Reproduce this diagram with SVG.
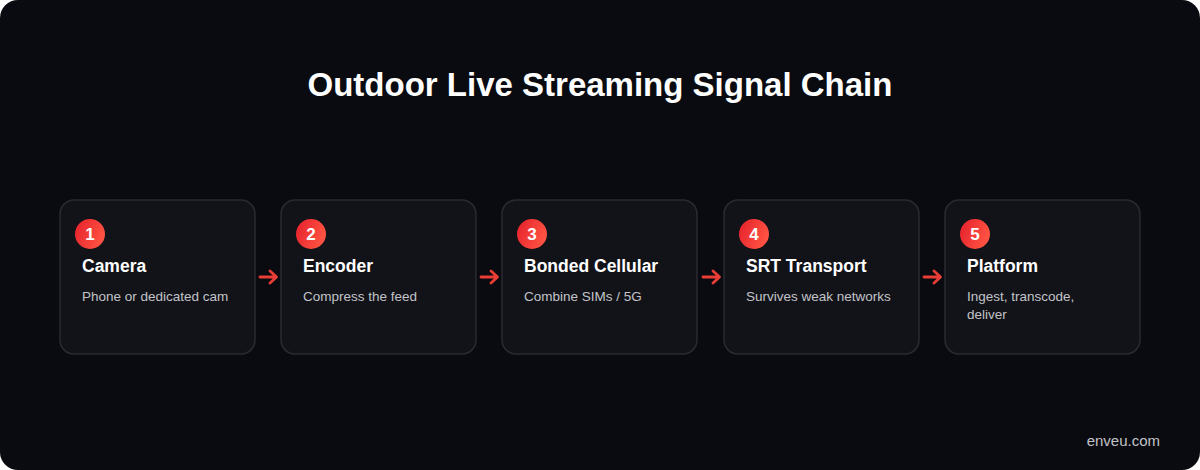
<svg xmlns="http://www.w3.org/2000/svg" width="1200" height="470" viewBox="0 0 1200 470">
<defs>
<linearGradient id="badge" x1="0" y1="0" x2="1" y2="0.4">
<stop offset="0" stop-color="#e41f2b"/>
<stop offset="1" stop-color="#ff5242"/>
</linearGradient>
<style>
.card{fill:#121318;stroke:#2a2b31;stroke-width:1.5}
.num{font-family:"Liberation Sans",Arial,sans-serif;font-weight:bold;font-size:17px;fill:#fff;text-anchor:middle}
.title{font-family:"Liberation Sans",Arial,sans-serif;font-weight:bold;font-size:17.5px;fill:#fff}
.desc{font-family:"Liberation Sans",Arial,sans-serif;font-size:13.5px;fill:#c2c3c9}
.arrow{fill:none;stroke:#ea3d36;stroke-width:2.8;stroke-linecap:round;stroke-linejoin:round}
</style>
</defs>
<rect x="0" y="0" width="1200" height="470" fill="#ffffff"/>
<rect x="0" y="0" width="1200" height="470" rx="18" fill="#0a0b10"/>
<text x="600" y="96" font-family="Liberation Sans,Arial,sans-serif" font-weight="bold" font-size="33" fill="#ffffff" text-anchor="middle">Outdoor Live Streaming Signal Chain</text>
<g id="connectors">
<path class="arrow" d="M260 277H276M270 271L276.5 277L270 283"/>
<path class="arrow" d="M481 277H497M491 271L497.5 277L491 283"/>
<path class="arrow" d="M703 277H719M713 271L719.5 277L713 283"/>
<path class="arrow" d="M924 277H940M934 271L940.5 277L934 283"/>
</g>
<g id="node1">
<rect class="card" x="60" y="200" width="195" height="154" rx="14"/>
<circle cx="90" cy="234" r="15" fill="url(#badge)"/>
<text class="num" x="90" y="240">1</text>
<text class="title" x="82" y="272">Camera</text>
<text class="desc" x="82" y="301">Phone or dedicated cam</text>
</g>
<g id="node2">
<rect class="card" x="281" y="200" width="195" height="154" rx="14"/>
<circle cx="311" cy="234" r="15" fill="url(#badge)"/>
<text class="num" x="311" y="240">2</text>
<text class="title" x="303" y="272">Encoder</text>
<text class="desc" x="303" y="301">Compress the feed</text>
</g>
<g id="node3">
<rect class="card" x="502" y="200" width="195" height="154" rx="14"/>
<circle cx="532" cy="234" r="15" fill="url(#badge)"/>
<text class="num" x="532" y="240">3</text>
<text class="title" x="524" y="272">Bonded Cellular</text>
<text class="desc" x="524" y="301">Combine SIMs / 5G</text>
</g>
<g id="node4">
<rect class="card" x="724" y="200" width="195" height="154" rx="14"/>
<circle cx="754" cy="234" r="15" fill="url(#badge)"/>
<text class="num" x="754" y="240">4</text>
<text class="title" x="746" y="272">SRT Transport</text>
<text class="desc" x="746" y="301">Survives weak networks</text>
</g>
<g id="node5">
<rect class="card" x="945" y="200" width="195" height="154" rx="14"/>
<circle cx="975" cy="234" r="15" fill="url(#badge)"/>
<text class="num" x="975" y="240">5</text>
<text class="title" x="967" y="272">Platform</text>
<text class="desc" x="967" y="301">Ingest, transcode,</text>
<text class="desc" x="967" y="319">deliver</text>
</g>
<text x="1160" y="446" font-family="Liberation Sans,Arial,sans-serif" font-size="15" fill="#c2c3c9" text-anchor="end">enveu.com</text>
</svg>
